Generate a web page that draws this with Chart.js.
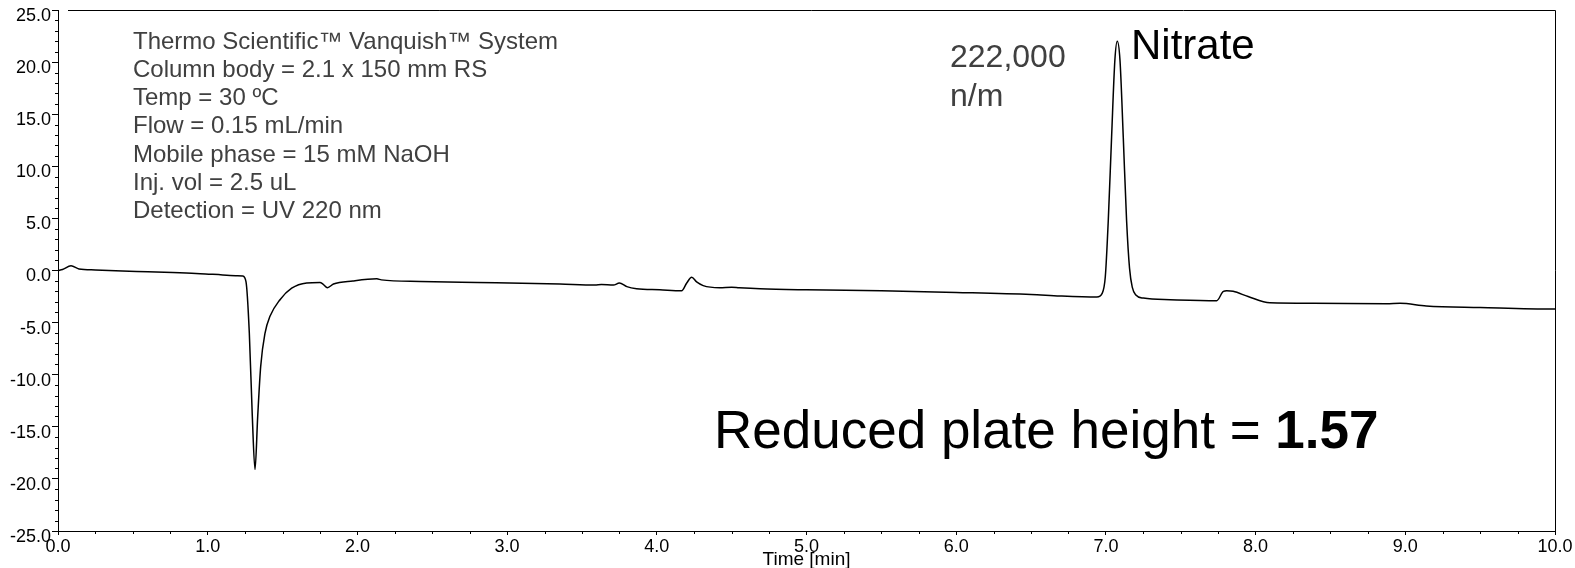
<!DOCTYPE html>
<html lang="en">

<head>
    <meta charset="UTF-8">
    <title>Nitrate chromatogram</title>
    <script src="https://cdn.jsdelivr.net/npm/chart.js"></script>
    <style>
        html, body { margin: 0; padding: 0; background: #fff; }
        #wrap { width: 1575px; height: 568px; }
    </style>
</head>

<body>
    <div id="wrap"><canvas id="chrom"></canvas></div>
    <script>
        // retention time (min) and detector signal
        var times = [0, 0.03, 0.087, 0.14, 0.25, 0.43, 0.6, 0.766, 0.95, 1.1, 1.2, 1.234, 1.256, 1.278, 1.298,
            1.316, 1.334, 1.354, 1.383, 1.416, 1.483, 1.561, 1.661, 1.75, 1.77, 1.8, 1.84, 1.97, 2.13, 2.16,
            2.42, 2.8, 3.1, 3.353, 3.587, 3.63, 3.71, 3.75, 3.8, 3.865, 4.02, 4.166, 4.2, 4.233, 4.266, 4.31,
            4.42, 4.5, 4.55, 4.69, 5.0, 5.5, 6.0, 6.5, 6.693, 6.94, 6.975, 6.996, 7.016, 7.038, 7.06, 7.076,
            7.094, 7.116, 7.138, 7.158, 7.176, 7.2, 7.25, 7.43, 7.74, 7.785, 7.807, 7.85, 7.95, 8.096, 8.386,
            8.875, 8.965, 9.14, 9.5, 9.99, 10.0];
        var signal = [0.0, 0.1, 0.45, 0.15, 0.05, -0.05, -0.12, -0.2, -0.3, -0.43, -0.5, -0.53, -1.1, -6.0, -14.0,
            -19.1, -14.0, -9.2, -6.0, -4.4, -2.8, -1.7, -1.2, -1.15, -1.3, -1.65, -1.3, -1.0, -0.8, -0.9,
            -1.05, -1.15, -1.22, -1.3, -1.4, -1.35, -1.4, -1.2, -1.55, -1.75, -1.85, -1.95, -1.2, -0.65, -1.1, -1.45,
            -1.65, -1.6, -1.65, -1.75, -1.85, -1.95, -2.1, -2.3, -2.45, -2.55, -2.2, -0.6, 4.85, 12.8, 20.2, 22.0,
            20.2, 12.8, 4.85, 0.2, -1.6, -2.35, -2.65, -2.8, -2.9, -2.0, -1.95, -2.0, -2.5, -3.1, -3.15,
            -3.2, -3.15, -3.4, -3.55, -3.7, -3.7];

        // axis ranges
        var xRange = [0, 10];
        var yRange = [-25, 25];
        var xMajor = 1, xMinor = 0.25;
        var yMajor = 5, yMinor = 1;

        var infoLines = [
            'Thermo Scientific\u2122 Vanquish\u2122 System',
            'Column body = 2.1 x 150 mm RS',
            'Temp = 30 \u00baC',
            'Flow = 0.15 mL/min',
            'Mobile phase = 15 mM NaOH',
            'Inj. vol = 2.5 uL',
            'Detection = UV 220 nm'
        ];

        var FONT = "'Liberation Sans', Arial, sans-serif";

        var points = times.map(function (t, i) { return { x: t, y: signal[i] }; });

        // minor ticks, top/right frame and the text notes
        var extras = {
            id: 'extras',
            afterDraw: function (chart) {
                var ctx = chart.ctx;
                var a = chart.chartArea;
                var xs = chart.scales.x, ys = chart.scales.y;
                ctx.save();
                ctx.strokeStyle = '#000';
                ctx.lineWidth = 1;
                ctx.beginPath();
                for (var v = yRange[0]; v <= yRange[1]; v += yMinor) {
                    if (v % yMajor === 0) continue;
                    var py = Math.round(ys.getPixelForValue(v)) + 0.5;
                    ctx.moveTo(a.left - 3, py); ctx.lineTo(a.left, py);
                }
                for (var k = 0; k <= (xRange[1] - xRange[0]) / xMinor; k++) {
                    var xv = xRange[0] + k * xMinor;
                    if (Math.abs(xv - Math.round(xv)) < 1e-9) continue;
                    var px = Math.round(xs.getPixelForValue(xv)) + 0.5;
                    ctx.moveTo(px, a.bottom); ctx.lineTo(px, a.bottom + 3);
                }
                // frame
                ctx.moveTo(a.left + 10, a.top + 0.5); ctx.lineTo(a.right + 0.5, a.top + 0.5);
                ctx.lineTo(a.right + 0.5, a.bottom);
                ctx.stroke();

                // method block
                ctx.fillStyle = '#404040';
                ctx.textBaseline = 'alphabetic';
                ctx.textAlign = 'left';
                ctx.font = '24px ' + FONT;
                infoLines.forEach(function (s, i) {
                    ctx.fillText(s, 133, 48.5 + i * 28.33);
                });

                ctx.font = '32px ' + FONT;
                ctx.fillText('222,000', 950, 67);
                ctx.fillText('n/m', 950, 106);

                ctx.fillStyle = '#000';
                ctx.font = '42px ' + FONT;
                ctx.fillText('Nitrate', 1131, 59);

                ctx.font = '53px ' + FONT;
                var lead = 'Reduced plate height = ';
                ctx.fillText(lead, 714, 448);
                var w = ctx.measureText(lead).width;
                ctx.font = 'bold 53px ' + FONT;
                ctx.fillText('1.57', 714 + w, 448);
                ctx.restore();
            }
        };

        var ctx = document.getElementById('chrom').getContext('2d');
        var chart = new Chart(ctx, {
            type: 'line',
            data: {
                datasets: [{
                    data: points,
                    borderColor: '#000',
                    borderWidth: 1.5,
                    pointRadius: 0,
                    fill: false,
                    cubicInterpolationMode: 'monotone'
                }]
            },
            options: {
                responsive: true,
                maintainAspectRatio: false,
                animation: false,
                layout: { padding: { top: 10, right: 20, left: 0, bottom: 0 } },
                plugins: {
                    legend: { display: false },
                    tooltip: { enabled: false }
                },
                scales: {
                    x: {
                        type: 'linear',
                        min: xRange[0],
                        max: xRange[1],
                        afterFit: function (s) { s.height = 37; },
                        border: { color: '#000', width: 1 },
                        grid: { drawOnChartArea: false, tickLength: 4, color: '#000' },
                        ticks: {
                            stepSize: xMajor,
                            autoSkip: false,
                            maxRotation: 0,
                            padding: 1,
                            color: '#000',
                            font: { family: FONT, size: 18 },
                            callback: function (v) { return v.toFixed(1); }
                        },
                        title: {
                            display: true,
                            text: 'Time [min]',
                            color: '#000',
                            font: { family: FONT, size: 19 },
                            padding: { top: 0, bottom: -3 }
                        }
                    },
                    y: {
                        min: yRange[0],
                        max: yRange[1],
                        afterFit: function (s) {
                            s.width = 58;
                            s.paddingTop = 0;
                            s.paddingBottom = 0;
                        },
                        border: { color: '#000', width: 1 },
                        grid: { drawOnChartArea: false, tickLength: 6, color: '#000' },
                        ticks: {
                            stepSize: yMajor,
                            padding: 1,
                            labelOffset: 6,
                            color: '#000',
                            font: { family: FONT, size: 18 },
                            callback: function (v) { return v.toFixed(1); }
                        }
                    }
                }
            },
            plugins: [extras]
        });
    </script>
</body>

</html>
